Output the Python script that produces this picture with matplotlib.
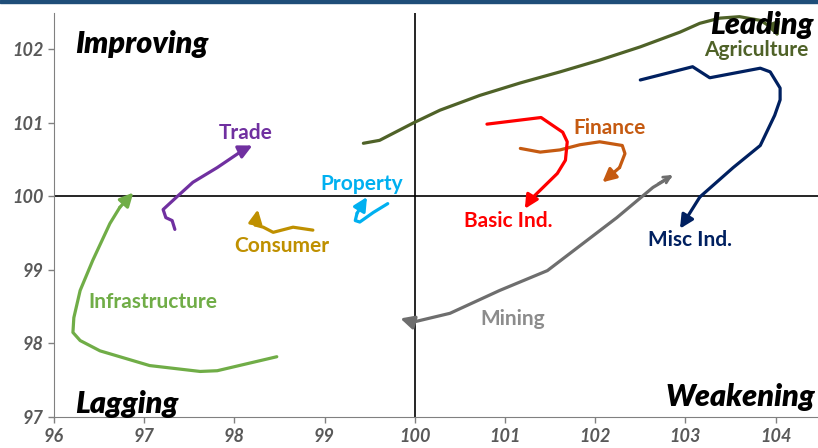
import matplotlib.pyplot as plt
from matplotlib.patches import Rectangle

plt.rcParams['font.family'] = ['Lato', 'DejaVu Sans']

# sector trails (x = RS ratio, y = RS momentum), last point = arrow tip
agri_x = [99.43, 99.61, 99.99, 100.28, 100.72, 101.17, 101.61, 102.05, 102.5, 102.94, 103.16, 103.38, 103.6, 103.83, 104.0, 104.03]
agri_y = [100.72, 100.76, 101.0, 101.17, 101.37, 101.54, 101.69, 101.85, 102.03, 102.23, 102.35, 102.42, 102.44, 102.39, 102.26, 102.16]

misc_x = [102.5, 103.08, 103.27, 103.83, 103.94, 104.05, 104.05, 103.99, 103.83, 103.53, 103.16, 102.94]
misc_y = [101.58, 101.76, 101.61, 101.74, 101.69, 101.47, 101.31, 101.10, 100.69, 100.39, 99.99, 99.56]

fin_x = [101.17, 101.39, 101.61, 101.83, 102.05, 102.3, 102.33, 102.27, 102.08]
fin_y = [100.65, 100.60, 100.63, 100.70, 100.74, 100.69, 100.58, 100.39, 100.19]

basic_x = [100.8, 101.4, 101.64, 101.69, 101.67, 101.58, 101.28, 101.22]
basic_y = [100.98, 101.07, 100.87, 100.74, 100.49, 100.31, 99.95, 99.83]

mining_x = [102.83, 102.64, 102.24, 101.47, 100.94, 100.39, 99.98, 99.84]
mining_y = [100.26, 100.12, 99.71, 98.99, 98.72, 98.41, 98.29, 98.34]

infra_x = [98.47, 97.81, 97.62, 97.06, 96.51, 96.29, 96.21, 96.22, 96.29, 96.43, 96.62, 96.73, 96.88]
infra_y = [97.82, 97.63, 97.62, 97.70, 97.90, 98.04, 98.15, 98.35, 98.72, 99.13, 99.63, 99.85, 100.05]

trade_x = [97.34, 97.31, 97.24, 97.21, 97.36, 97.54, 97.81, 98.1, 98.2]
trade_y = [99.55, 99.67, 99.71, 99.82, 99.99, 100.19, 100.39, 100.63, 100.69]

cons_x = [98.87, 98.65, 98.43, 98.32, 98.23, 98.26]
cons_y = [99.54, 99.58, 99.51, 99.58, 99.61, 99.82]

prop_x = [99.70, 99.54, 99.39, 99.34, 99.36, 99.47]
prop_y = [99.90, 99.78, 99.65, 99.67, 99.77, 99.99]

sectors = [
    ('Agriculture', agri_x, agri_y, '#4F6228', '#4F6228', (103.79, 101.99)),
    ('Misc Ind.', misc_x, misc_y, '#002060', '#002060', (103.05, 99.40)),
    ('Finance', fin_x, fin_y, '#C55A11', '#C55A11', (102.16, 100.93)),
    ('Basic Ind.', basic_x, basic_y, '#FF0000', '#FF0000', (101.04, 99.67)),
    ('Mining', mining_x, mining_y, '#6E6E6E', '#8C8C8C', (101.09, 98.33)),
    ('Infrastructure', infra_x, infra_y, '#70AD47', '#70AD47', (97.10, 98.56)),
    ('Trade', trade_x, trade_y, '#7030A0', '#7030A0', (98.12, 100.86)),
    ('Consumer', cons_x, cons_y, '#BF9000', '#BF9000', (98.53, 99.33)),
    ('Property', prop_x, prop_y, '#00B0F0', '#00B0F0', (99.41, 100.16)),
]

fig = plt.figure(figsize=(8.18, 4.48), dpi=100)
ax = fig.add_axes([0.066, 0.069, 0.934, 0.902])

ax.axhline(100, color='black', lw=1.2, zorder=1)
ax.axvline(100, color='black', lw=1.2, zorder=1)

for name, xs, ys, col, lcol, pos in sectors:
    ax.plot(xs[:-1], ys[:-1], color=col, lw=2.3, solid_capstyle='round', solid_joinstyle='round', zorder=2)
    ax.annotate('', xy=(xs[-1], ys[-1]), xytext=(xs[-2], ys[-2]),
                arrowprops=dict(arrowstyle='-|>', color=col, lw=2.3, mutation_scale=20,
                                shrinkA=0, shrinkB=0), zorder=3)
    ax.text(pos[0], pos[1], name, color=lcol, fontsize=15, fontweight='bold',
            ha='center', va='center', zorder=4)

# open arrow at the start of the mining trail
ax.annotate('', xy=(102.86, 100.29), xytext=(102.7, 100.17),
            arrowprops=dict(arrowstyle='->', color='#6E6E6E', lw=2.0, mutation_scale=12,
                            shrinkA=0, shrinkB=0), zorder=3)

qfont = dict(fontsize=22, fontweight='heavy', fontstyle='italic', color='black', zorder=5)
ax.text(96.23, 102.07, 'Improving', ha='left', va='center', **qfont)
ax.text(103.85, 102.33, 'Leading', ha='center', va='center', **qfont)
ax.text(96.23, 97.18, 'Lagging', ha='left', va='center', **qfont)
ax.text(104.44, 97.27, 'Weakening', ha='right', va='center', **qfont)

ax.set_xlim(96, 104.47)
ax.set_ylim(97, 102.49)
ax.set_xticks(range(96, 105))
ax.set_yticks(range(97, 103))
for s in ['top', 'right']:
    ax.spines[s].set_visible(False)
for s in ['left', 'bottom']:
    ax.spines[s].set_color('#808080')
ax.tick_params(colors='#808080', length=4, width=1)
for lab in ax.get_xticklabels() + ax.get_yticklabels():
    lab.set_color('#595959')
    lab.set_fontweight('bold')
    lab.set_fontstyle('italic')
    lab.set_fontsize(13)

# thin blue band along the top edge
fig.patches.append(Rectangle((0, 0.994), 1, 0.006, transform=fig.transFigure,
                             color='#1F4E79', zorder=10))

fig.savefig('out.png', dpi=100)
